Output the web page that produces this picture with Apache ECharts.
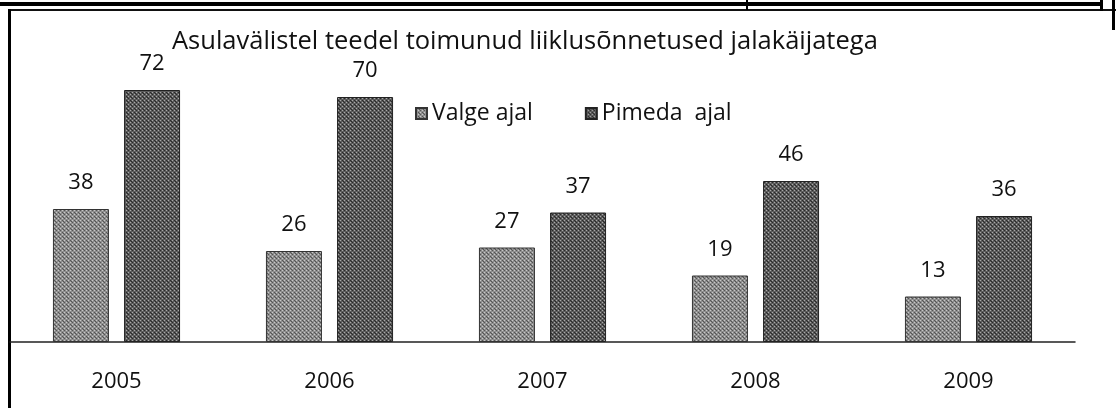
<!DOCTYPE html>
<html>
<head>
<meta charset="utf-8">
<script src="https://cdn.jsdelivr.net/npm/echarts@6/dist/echarts.min.js"></script>
<style>
  html, body { margin: 0; padding: 0; background: #fff; }
  #chart { width: 1116px; height: 408px; }
</style>
</head>
<body>
<div id="chart"></div>
<script>
// Pedestrian road accidents on rural roads, by light conditions
const chartTitle = 'Asulavälistel teedel toimunud liiklusõnnetused jalakäijatega';
const years = ['2005', '2006', '2007', '2008', '2009'];
const seriesNames = ['Valge ajal', 'Pimeda  ajal'];
const daylight = [38, 26, 27, 19, 13];
const darkness = [72, 70, 37, 46, 36];

// Small halftone tile so the bars carry a printed dot texture
function halftone(base, light, dark) {
  const c = document.createElement('canvas');
  c.width = 4; c.height = 4;
  const g = c.getContext('2d');
  g.fillStyle = base; g.fillRect(0, 0, 4, 4);
  g.fillStyle = light;
  g.fillRect(0, 0, 1, 1); g.fillRect(2, 2, 1, 1);
  g.fillStyle = dark;
  g.fillRect(2, 0, 1, 1); g.fillRect(0, 2, 1, 1); g.fillRect(3, 1, 1, 1);
  return { image: c, repeat: 'repeat' };
}

const fontFamily = '"Open Sans", Lato, sans-serif';
const chart = echarts.init(document.getElementById('chart'), null, { renderer: 'canvas' });

const labelStyle = {
  show: true,
  position: 'top',
  distance: 15,
  color: '#111',
  fontSize: 22,
  fontFamily: fontFamily
};

chart.setOption({
  backgroundColor: '#fff',
  animation: false,
  title: {
    text: chartTitle,
    left: 167,
    top: 24,
    textStyle: { fontSize: 25.5, fontWeight: 'normal', color: '#111', fontFamily: fontFamily }
  },
  legend: {
    data: seriesNames,
    left: 410,
    top: 97,
    itemWidth: 11,
    itemHeight: 11,
    itemGap: 52,
    icon: 'rect',
    textStyle: { fontSize: 23, color: '#111', fontFamily: fontFamily }
  },
  grid: { left: 10, right: 41, top: 62, bottom: 66 },
  xAxis: {
    type: 'category',
    data: years,
    axisLine: { show: true, lineStyle: { color: '#222', width: 1.5 } },
    axisTick: { show: false },
    axisLabel: { margin: 29, fontSize: 22, color: '#111', fontFamily: fontFamily }
  },
  yAxis: {
    type: 'value',
    min: 0,
    max: 80,
    show: false,
    splitLine: { show: false }
  },
  series: [
    {
      name: seriesNames[0],
      type: 'bar',
      data: daylight,
      barWidth: 56,
      barGap: '27%',
      itemStyle: { color: halftone('#8e8e8e', '#c8c8c8', '#555'), borderColor: '#333', borderWidth: 1 },
      label: labelStyle
    },
    {
      name: seriesNames[1],
      type: 'bar',
      data: darkness,
      barWidth: 56,
      itemStyle: { color: halftone('#5c5c5c', '#a8a8a8', '#2a2a2a'), borderColor: '#222', borderWidth: 1 },
      label: labelStyle
    }
  ],
  graphic: [
    // page frame pieces around the chart
    { type: 'rect', shape: { x: 0, y: 2, width: 1102, height: 4 }, style: { fill: '#000' }, silent: true },
    { type: 'rect', shape: { x: 8, y: 9, width: 1108, height: 2 }, style: { fill: '#111' }, silent: true },
    { type: 'rect', shape: { x: 8, y: 9, width: 3, height: 399 }, style: { fill: '#000' }, silent: true },
    { type: 'rect', shape: { x: 746, y: 0, width: 2, height: 10 }, style: { fill: '#000' }, silent: true },
    { type: 'rect', shape: { x: 1100, y: 0, width: 3, height: 11 }, style: { fill: '#000' }, silent: true },
    { type: 'rect', shape: { x: 1112, y: 0, width: 3, height: 30 }, style: { fill: '#000' }, silent: true }
  ]
});
</script>
</body>
</html>
